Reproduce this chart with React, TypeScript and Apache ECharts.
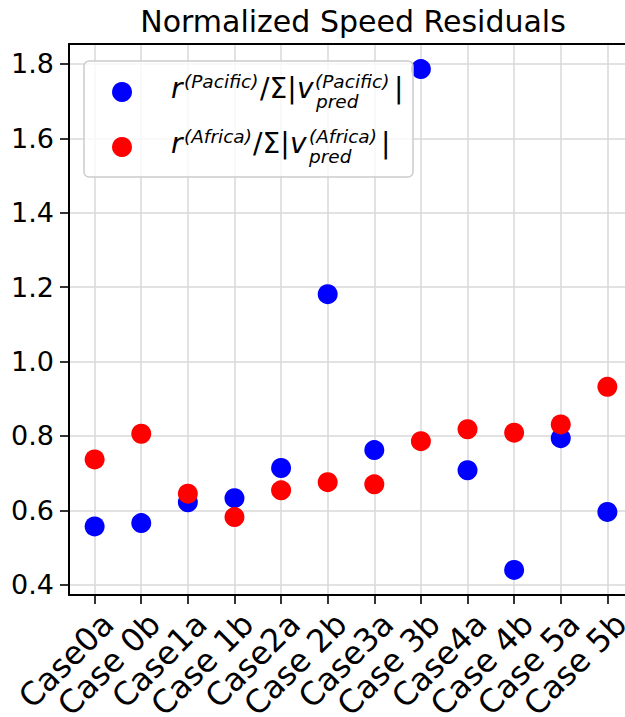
import React, { useEffect, useRef } from "react";
import * as echarts from "echarts";

// Case labels along the x axis
const categories = [
  "Case0a", "Case 0b", "Case1a", "Case 1b", "Case2a", "Case 2b",
  "Case3a", "Case 3b", "Case4a", "Case 4b", "Case 5a", "Case 5b",
];

// Normalized residuals for each region
const pacificValues = [0.557, 0.566, 0.622, 0.633, 0.714, 1.181, 0.762, 1.786, 0.708, 0.44, 0.794, 0.596];
const africaValues = [0.737, 0.806, 0.645, 0.582, 0.654, 0.676, 0.67, 0.786, 0.818, 0.809, 0.831, 0.932];

// Tick positions on the value axis
const yTickValues = [0.4, 0.6, 0.8, 1.0, 1.2, 1.4, 1.6, 1.8];

const FONT = "DejaVu Sans";
const BLUE = "#0000ff";
const RED = "#ff0000";

const allValues = [...pacificValues, ...africaValues];
const yLo = Math.min(...allValues);
const yHi = Math.max(...allValues);
const yPad = (yHi - yLo) * 0.05;
const xPad = (categories.length - 1) * 0.05;
const xTicks = categories.map((_, i) => i);

// Legend text pieces: [text, x, y, size, italic]
type Piece = [string, number, number, number, boolean];
const MAIN = 28;
const SMALL = 18.5;
const legendRow = (
  cy: number,
  region: string,
  xs: { sup1: number; mid: number; v: number; sup2: number; sub: number; bar: number }
): Piece[] => [
  ["r", 171, cy, MAIN, true],
  [`(${region})`, xs.sup1, cy - 7, SMALL, true],
  ["/Σ|", xs.mid, cy, MAIN, false],
  ["v", xs.v, cy, MAIN, true],
  [`(${region})`, xs.sup2, cy - 7, SMALL, true],
  ["pred", xs.sub, cy + 13.5, SMALL, true],
  ["|", xs.bar, cy, MAIN, false],
];

export default function App() {
  const ref = useRef<HTMLDivElement>(null);

  useEffect(() => {
    if (!ref.current) return;
    const chart = echarts.init(ref.current, null, { renderer: "svg" });

    const legendPieces: Piece[] = [
      ...legendRow(88, "Pacific", { sup1: 184, mid: 260, v: 297, sup2: 315, sub: 316, bar: 394 }),
      ...legendRow(143, "Africa", { sup1: 184, mid: 253, v: 290, sup2: 309, sub: 309, bar: 381 }),
    ];

    const axisLineStyle = { color: "#000", width: 2 };
    const gridLine = { lineStyle: { color: "#d9d9d9", width: 1.5 } };

    chart.setOption({
      animation: false,
      backgroundColor: "#fff",
      title: {
        text: "Normalized Speed Residuals",
        left: 348,
        textAlign: "center",
        top: 1,
        textStyle: { fontFamily: FONT, fontSize: 30, fontWeight: "normal", color: "#000" },
      },
      grid: { left: 69, top: 44, right: -8, bottom: 122, outerBoundsMode: "none", containLabel: false },
      xAxis: [
        {
          type: "value",
          min: -xPad,
          max: categories.length - 1 + xPad,
          axisLine: { show: true, onZero: false, lineStyle: axisLineStyle },
          axisTick: { show: true, customValues: xTicks, length: 9, lineStyle: { color: "#000", width: 1.6 } },
          axisLabel: {
            customValues: xTicks,
            rotate: 45,
            margin: 37,
            padding: [0, -19, 0, 0],
            fontFamily: FONT,
            fontSize: 32,
            color: "#000",
            hideOverlap: false,
            showMinLabel: true,
            showMaxLabel: true,
            formatter: (v: number) => categories[Math.round(v)] ?? "",
          },
          splitLine: { show: true, ...gridLine },
        },
        {
          type: "value",
          position: "top",
          min: -xPad,
          max: categories.length - 1 + xPad,
          axisLine: { show: true, onZero: false, lineStyle: axisLineStyle },
          axisTick: { show: false },
          axisLabel: { show: false },
          splitLine: { show: false },
        },
      ],
      yAxis: {
        type: "value",
        min: yLo - yPad,
        max: yHi + yPad,
        axisLine: { show: true, onZero: false, lineStyle: axisLineStyle },
        axisTick: { show: true, customValues: yTickValues, length: 9, lineStyle: { color: "#000", width: 1.6 } },
        axisLabel: {
          customValues: yTickValues,
          margin: 15,
          fontFamily: FONT,
          fontSize: 27,
          color: "#000",
          showMinLabel: true,
          showMaxLabel: true,
          formatter: (v: number) => v.toFixed(1),
        },
        splitLine: { show: true, ...gridLine },
      },
      series: [
        {
          name: "r^(Pacific)/Σ|v_pred^(Pacific)|",
          type: "scatter",
          symbolSize: 20,
          itemStyle: { color: BLUE, opacity: 1 },
          data: pacificValues.map((v, i) => [i, v]),
          z: 3,
        },
        {
          name: "r^(Africa)/Σ|v_pred^(Africa)|",
          type: "scatter",
          symbolSize: 20,
          itemStyle: { color: RED, opacity: 1 },
          data: africaValues.map((v, i) => [i, v]),
          z: 4,
        },
      ],
      graphic: [
        {
          type: "rect",
          z: 10,
          shape: { x: 84, y: 61, width: 329, height: 116, r: 5 },
          style: { fill: "rgba(255,255,255,0.8)", stroke: "#cccccc", lineWidth: 1.5 },
        },
        { type: "circle", z: 11, shape: { cx: 122, cy: 92, r: 10 }, style: { fill: BLUE } },
        { type: "circle", z: 11, shape: { cx: 122, cy: 147, r: 10 }, style: { fill: RED } },
        ...legendPieces.map(([text, x, y, size, italic]) => ({
          type: "text",
          z: 11,
          x,
          y,
          style: {
            text,
            fill: "#000",
            fontFamily: FONT,
            fontSize: size,
            fontStyle: italic ? "italic" : "normal",
            verticalAlign: "middle",
            textAlign: "left",
          },
        })),
      ],
    });

    return () => chart.dispose();
  }, []);

  return (
    <div
      ref={ref}
      style={{ position: "absolute", left: 0, top: 0, width: 625, height: 717 }}
    />
  );
}
